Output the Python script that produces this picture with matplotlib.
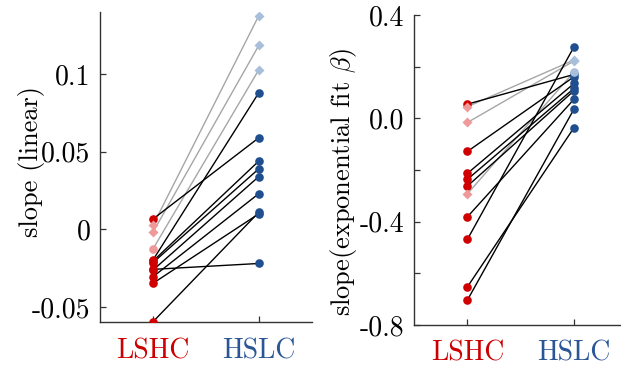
import matplotlib
matplotlib.use('Agg')
import matplotlib.pyplot as plt

plt.rcParams['font.family'] = ['cmr10', 'DejaVu Serif']
plt.rcParams['mathtext.fontset'] = 'cm'
plt.rcParams['axes.unicode_minus'] = False

RED = '#d00000'
BLUE = '#1f4f8f'
PINK = '#ee9a9a'
LIGHTBLUE = '#a9bedb'
GRAY = '#a6a6a6'

conditions = ['LSHC', 'HSLC']
cond_colors = ['#cc0000', '#2a5696']

# linear slope, per subject
lin_lshc = [0.0066, -0.0198, -0.0205, -0.0215, -0.0258, -0.0263, -0.0306, -0.0348, -0.0596]
lin_hslc = [0.059, 0.088, 0.044, 0.039, -0.022, 0.034, 0.023, 0.010, 0.011]
lin_lshc_light = [0.0025, -0.0019, -0.0127]
lin_hslc_light = [0.1377, 0.1185, 0.1028]
lin_light_markers = [('D', 'D'), ('D', 'D'), ('o', 'D')]

# exponential fit beta, per subject
exp_lshc = [0.055, -0.128, -0.213, -0.236, -0.262, -0.381, -0.468, -0.652, -0.703]
exp_hslc = [0.170, 0.161, 0.135, 0.116, 0.107, 0.074, 0.277, -0.036, 0.036]
exp_lshc_light = [0.045, -0.016, -0.292]
exp_hslc_light = [0.226, 0.222, 0.180]
exp_light_markers = [('D', 'D'), ('D', 'D'), ('D', 'o')]

lin_ticks = [0.1, 0.05, 0, -0.05]
lin_ticklabels = ['0.1', '0.05', '0', '-0.05']
exp_ticks = [0.4, 0.2, 0.0, -0.2, -0.4, -0.6, -0.8]
exp_ticklabels = ['0.4', '', '0.0', '', '-0.4', '', '-0.8']


def paired_panel(ax, lshc, hslc, lshc_l, hslc_l, light_markers):
    x = [1, 2]
    for a, b in zip(lshc_l, hslc_l):
        ax.plot(x, [a, b], color=GRAY, lw=1.0, zorder=1)
    for a, b in zip(lshc, hslc):
        ax.plot(x, [a, b], color='black', lw=1.0, zorder=2)
    ax.plot([1] * len(lshc), lshc, 'o', color=RED, ms=6.2, mec='none', zorder=3)
    ax.plot([2] * len(hslc), hslc, 'o', color=BLUE, ms=6.2, mec='none', zorder=3)
    for a, b, (ma, mb) in zip(lshc_l, hslc_l, light_markers):
        ax.plot(1, a, ma, color=PINK, ms=6.2 if ma == 'o' else 4.6, mec='none', zorder=4)
        ax.plot(2, b, mb, color=LIGHTBLUE, ms=6.2 if mb == 'o' else 4.6, mec='none', zorder=4)

    ax.set_xlim(0.5, 2.5)
    ax.set_xticks(x)
    ax.set_xticklabels(conditions, fontsize=20)
    for lab, c in zip(ax.get_xticklabels(), cond_colors):
        lab.set_color(c)
    ax.spines['top'].set_visible(False)
    ax.spines['right'].set_visible(False)
    for s in ['left', 'bottom']:
        ax.spines[s].set_color('#333333')
        ax.spines[s].set_linewidth(1.0)
    ax.tick_params(axis='both', direction='in', length=4, color='#333333', width=0.9)
    ax.tick_params(axis='x', pad=11)
    ax.tick_params(axis='y', labelsize=20, pad=7)


fig = plt.figure(figsize=(6.21, 3.66), dpi=100)
ax1 = fig.add_axes([0.161, 0.119, 0.341, 0.848])
ax2 = fig.add_axes([0.667, 0.112, 0.338, 0.847])

paired_panel(ax1, lin_lshc, lin_hslc, lin_lshc_light, lin_hslc_light, lin_light_markers)
ax1.set_ylim(-0.06, 0.14)
ax1.set_yticks(lin_ticks)
ax1.set_yticklabels(lin_ticklabels)
ax1.set_ylabel('slope (linear)', fontsize=19)
ax1.yaxis.set_label_coords(-0.26, 0.52)

paired_panel(ax2, exp_lshc, exp_hslc, exp_lshc_light, exp_hslc_light, exp_light_markers)
ax2.set_ylim(-0.8, 0.4)
ax2.set_xlim(0.5, 2.47)
ax2.set_yticks(exp_ticks)
ax2.set_yticklabels(exp_ticklabels)
ax2.set_ylabel(r'slope(exponential fit $\beta$)', fontsize=19)
ax2.yaxis.set_label_coords(-0.265, 0.46)

fig.savefig('out.png', dpi=100)
